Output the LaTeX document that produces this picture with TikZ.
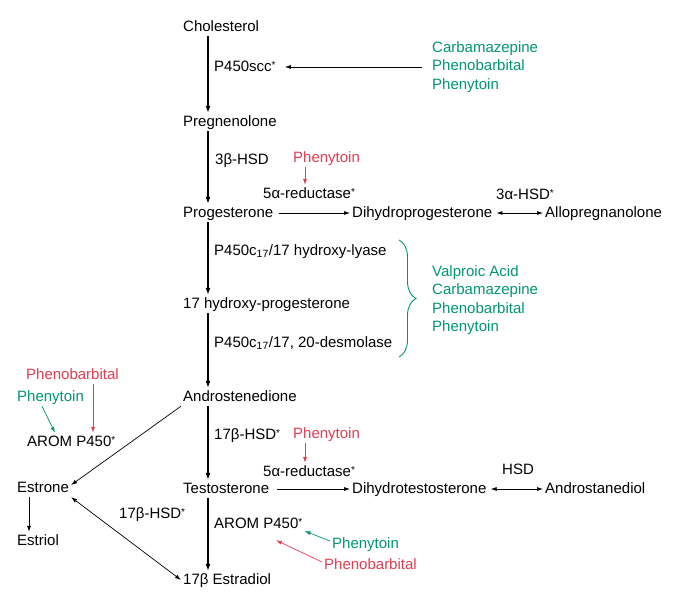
\documentclass[tikz,border=0pt]{standalone}
\usepackage{fontspec}
\setmainfont{Liberation Sans}
\usetikzlibrary{arrows.meta}
\usetikzlibrary{calc}
\usetikzlibrary{decorations.pathreplacing}
\definecolor{drgreen}{RGB}{0,150,115}
\definecolor{drred}{RGB}{228,60,80}
\newcommand{\sstar}{\raisebox{3pt}{\fontsize{10}{10}\selectfont*}}
\tikzset{
    txt/.style={anchor=west, inner sep=2pt, text height=11pt, text depth=3pt, font=\fontsize{15}{18.5}\selectfont},
    druglist/.style={anchor=west, inner sep=2pt, align=left, font=\fontsize{15}{18.5}\selectfont},
    main/.style={line width=1.3pt, -{Latex[length=7pt,width=5pt]}},
    side/.style={line width=0.7pt, -{Latex[length=6pt,width=4pt]}},
    both/.style={line width=0.7pt, {Latex[length=6pt,width=4pt]}-{Latex[length=6pt,width=4pt]}}
}

\begin{document}
\begin{tikzpicture}[x=1pt,y=-1pt]
\useasboundingbox (0,0) rectangle (676,594);
% metabolites
\foreach \x/\y/\p/\t in {181/27/chol/{Cholesterol}, 181/122/preg/{Pregnenolone}, 181/213/prog/{Progesterone}, 350/213/dhp/{Dihydroprogesterone}, 543/213/allo/{Allopregnanolone}, 181/304/ohp/{17 hydroxy-progesterone}, 181/397/andro/{Androstenedione}, 15/488/estr/{Estrone}, 15/541/estriol/{Estriol}, 181/489/testo/{Testosterone}, 350/489/dht/{Dihydrotestosterone}, 543/489/adiol/{Androstanediol}, 181/580/estra/{17β Estradiol}}{
    \node[txt] (\p) at (\x,\y) {\t};
}
% enzymes
\foreach \x/\y/\p/\t in {212/67/scc/{P450scc\sstar}, 213/160/hsdA/{3β-HSD}, 261/194/redA/{5α-reductase\sstar}, 494/195/hsdAl/{3α-HSD\sstar}, 212/251/lyase/{P450c\textsubscript{17}/17 hydroxy-lyase}, 212/343/desm/{P450c\textsubscript{17}/17, 20-desmolase}, 25/442/aromL/{AROM P450\sstar}, 212/435/hsdB/{17β-HSD\sstar}, 117/514/hsdC/{17β-HSD\sstar}, 261/472/redB/{5α-reductase\sstar}, 500/470/hsdD/{HSD}, 212/524/aromR/{AROM P450\sstar}}{
    \node[txt] (\p) at (\x,\y) {\t};
}
% drugs
\node[druglist, text=drgreen] (drA) at (430,67) {Carbamazepine\\Phenobarbital\\Phenytoin};
\node[druglist, text=drgreen] (drB) at (430,300) {Valproic Acid\\Carbamazepine\\Phenobarbital\\Phenytoin};
\node[txt, text=drred] (ptA) at (291,158) {Phenytoin};
\node[txt, text=drred] (ptB) at (291,434) {Phenytoin};
\node[txt, text=drred] (pbL) at (24,375) {Phenobarbital};
\node[txt, text=drgreen] (ptL) at (15,397) {Phenytoin};
\node[txt, text=drgreen] (ptR) at (330,544) {Phenytoin};
\node[txt, text=drred] (pbR) at (322,565) {Phenobarbital};

% main column
\draw[main] ([xshift=27pt]chol.south west) -- ([xshift=27pt]preg.north west);
\draw[main] ([xshift=27pt]preg.south west) -- ([xshift=27pt]prog.north west);
\draw[main] ([xshift=27pt]prog.south west) -- ([xshift=27pt]ohp.north west);
\draw[main] ([xshift=27pt]ohp.south west) -- ([xshift=27pt]andro.north west);
\draw[main] ([xshift=27pt]andro.south west) -- ([xshift=27pt]testo.north west);
\draw[main] ([xshift=27pt]testo.south west) -- ([xshift=27pt]estra.north west);
% side reactions
\draw[side, shorten <=4pt] (prog.east) -- (dhp.west);
\draw[both, shorten <=2pt] (dhp.east) -- (allo.west);
\draw[side, shorten <=6pt] (testo.east) -- (dht.west);
\draw[both, shorten <=2pt] (dht.east) -- (adiol.west);
\draw[side] (andro.south west) -- ([yshift=3pt]estr.east);
\draw[side] ([xshift=14pt]estr.south west) -- ([xshift=14pt]estriol.north west);
\draw[both] (estr.south east) -- (estra.west);
% drug effects
\draw[side, shorten <=8pt, shorten >=7pt] (drA.west) -- (scc.east);
\draw[drgreen, line width=0.9pt, decorate, decoration={brace, amplitude=17pt, aspect=0.5}] (399,240) -- (399,357);
\draw[side, drred] ([xshift=14pt]ptA.south west) -- ([xshift=44pt]redA.north west);
\draw[side, drred] ([xshift=14pt]ptB.south west) -- ([xshift=44pt]redB.north west);
\draw[side, drred] ([xshift=69pt]pbL.south west) -- ([xshift=68pt]aromL.north west);
\draw[side, drgreen] ([xshift=27pt]ptL.south west) -- ([xshift=30pt]aromL.north west);
\draw[side, drgreen] ([yshift=3pt]ptR.west) -- ([yshift=-7pt]aromR.east);
\draw[side, drred] ([yshift=3pt]pbR.west) -- ([xshift=64pt, yshift=-7pt]aromR.south west);
\end{tikzpicture}
\end{document}
